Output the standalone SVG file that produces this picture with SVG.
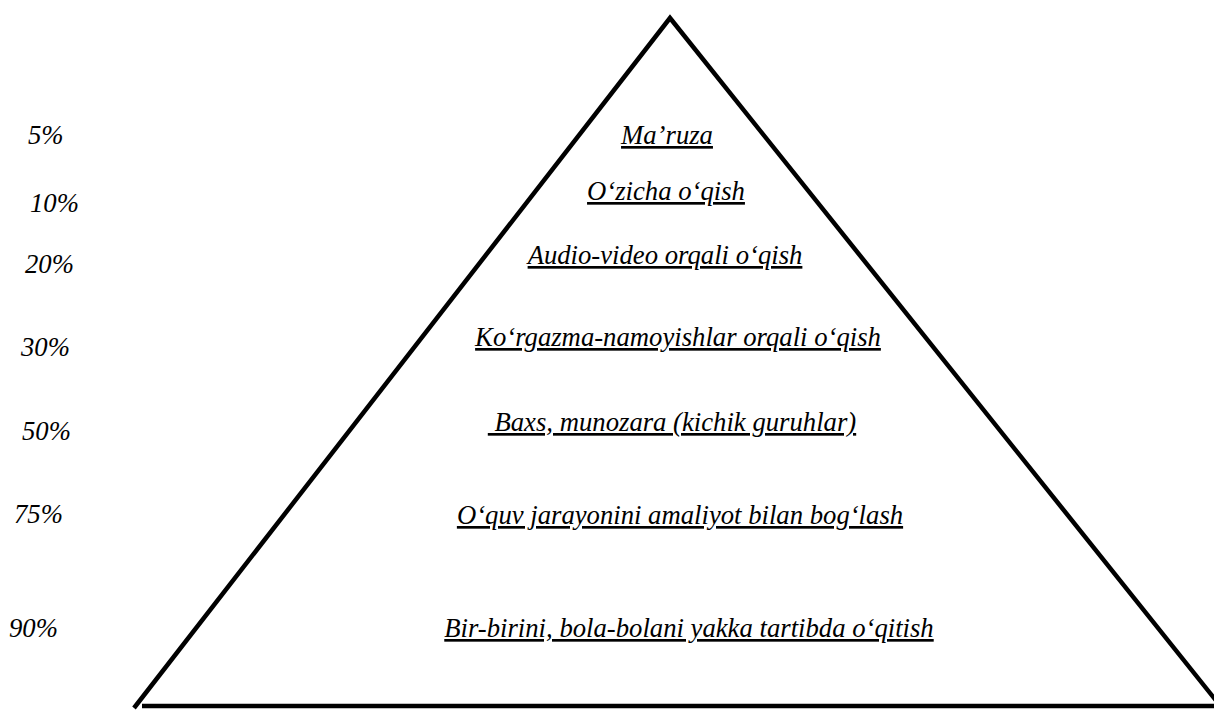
<svg xmlns="http://www.w3.org/2000/svg" width="1214" height="711" viewBox="0 0 1214 711">
<style>
.t{font-family:"Liberation Serif","Times New Roman",serif;font-style:italic;font-size:26.7px;fill:#000}
.lvl{text-anchor:middle;text-decoration:underline}
.edge{fill:none;stroke:#000;stroke-width:4.5}
</style>
<rect width="1214" height="711" fill="#fff"/>
<g id="connectors">
<path class="edge" d="M134,708 L670,18 L1222,708" stroke-linejoin="miter"/>
<line class="edge" x1="142" y1="706" x2="1214" y2="706"/>
</g>
<g id="levels">
<g id="lvl1"><text class="t lvl" x="667" y="144">Ma’ruza</text></g>
<g id="lvl2"><text class="t lvl" x="666" y="200">O‘zicha o‘qish</text></g>
<g id="lvl3"><text class="t lvl" x="665" y="264">Audio-video orqali o‘qish</text></g>
<g id="lvl4"><text class="t lvl" x="678" y="346">Ko‘rgazma-namoyishlar orqali o‘qish</text></g>
<g id="lvl5"><text class="t lvl" x="672" y="431" xml:space="preserve"> Baxs, munozara (kichik guruhlar)</text></g>
<g id="lvl6"><text class="t lvl" x="680" y="524">O‘quv jarayonini amaliyot bilan bog‘lash</text></g>
<g id="lvl7"><text class="t lvl" x="689" y="637">Bir-birini, bola-bolani yakka tartibda o‘qitish</text></g>
</g>
<g id="percents">
<g id="p5"><text class="t" x="28" y="144">5%</text></g>
<g id="p10"><text class="t" x="30" y="212">10%</text></g>
<g id="p20"><text class="t" x="25" y="273">20%</text></g>
<g id="p30"><text class="t" x="21" y="356">30%</text></g>
<g id="p50"><text class="t" x="22" y="440">50%</text></g>
<g id="p75"><text class="t" x="14" y="523">75%</text></g>
<g id="p90"><text class="t" x="9" y="637">90%</text></g>
</g>
</svg>
